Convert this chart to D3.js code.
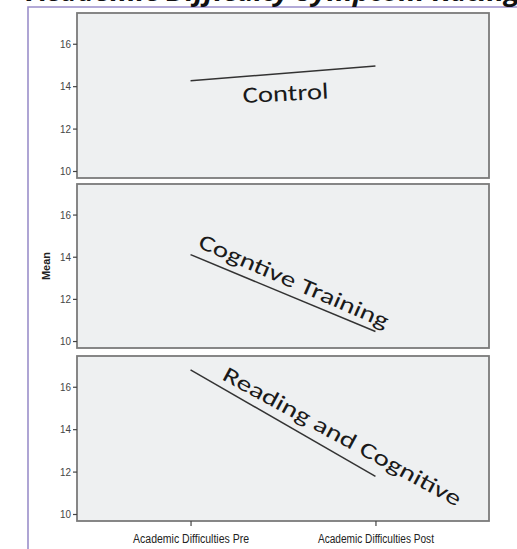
<!DOCTYPE html>
<html><head><meta charset="utf-8">
<script src="https://cdn.jsdelivr.net/npm/d3@7"></script>
<style>body{margin:0;background:#fff}svg{display:block}</style>
</head><body><svg id="c" width="517" height="549"></svg>
<script>
const title = "Academic Difficulty Symptom Rating";
const categories = ["Academic Difficulties Pre", "Academic Difficulties Post"];
const groups = ["Control", "Cogntive Training", "Reading and Cognitive"];
const controlValues = [14.25, 14.95];
const cognitiveValues = [14.1, 10.45];
const readingValues = [16.8, 11.77];
const yTicks = [10, 12, 14, 16];
const yLabel = "Mean";

const seriesValues = [controlValues, cognitiveValues, readingValues];
const svg = d3.select("#c");

// purple frame
svg.append("path").attr("d", "M28,549 L28,7 L517,7")
  .attr("fill", "none").attr("stroke", "#9b8fca").attr("stroke-width", 1.6);

// cut-off title (only its lower edge shows, as in the reference)
svg.append("text").attr("x", 28).attr("y", 1)
  .attr("font-family", "'Open Sans', sans-serif").attr("font-weight", "bold")
  .attr("font-style", "italic").attr("font-size", 26)
  .attr("textLength", 492).attr("lengthAdjust", "spacingAndGlyphs")
  .attr("fill", "#111").text(title);

const left = 77, right = 489;
const panels = [{top: 13, bottom: 178}, {top: 184, bottom: 348}, {top: 356, bottom: 521}];
const x = d3.scalePoint().domain(categories).range([left, right]).padding(0.614);

const labelSpecs = [
  {x: 243, y: 103, rot: -3, len: 86, size: 23},
  {x: 197, y: 247, rot: 23.5, len: 205, size: 22},
  {x: 221, y: 379, rot: 28.5, len: 268, size: 22}
];

panels.forEach((p, i) => {
  const y = d3.scaleLinear().domain([9.67, 17.45]).range([p.bottom, p.top]);
  const g = svg.append("g");
  g.append("rect").attr("x", left).attr("y", p.top).attr("width", right - left)
    .attr("height", p.bottom - p.top).attr("fill", "#eef0f1")
    .attr("stroke", "#7a7a7a").attr("stroke-width", 1.8);
  const ax = g.append("g").attr("transform", `translate(${left},0)`)
    .call(d3.axisLeft(y).tickValues(yTicks).tickSize(4).tickPadding(2));
  ax.select(".domain").remove();
  ax.selectAll("line").attr("stroke", "#444").attr("stroke-width", 1.2);
  ax.selectAll("text").attr("font-family", "'Liberation Sans', Arial, sans-serif")
    .attr("font-size", 11).attr("textLength", 11).attr("lengthAdjust", "spacingAndGlyphs")
    .attr("fill", "#444");

  const line = d3.line().x((d, j) => x(categories[j])).y(d => y(d));
  g.append("path").datum(seriesValues[i]).attr("d", line)
    .attr("fill", "none").attr("stroke", "#333").attr("stroke-width", 1.5);

  const s = labelSpecs[i];
  g.append("text").attr("transform", `translate(${s.x},${s.y}) rotate(${s.rot})`)
    .attr("font-family", "Carlito, 'Open Sans', sans-serif").attr("font-size", s.size)
    .attr("textLength", s.len).attr("lengthAdjust", "spacingAndGlyphs")
    .attr("fill", "#1a1a1a").text(groups[i]);
});

// x axis at bottom
const xa = svg.append("g").attr("transform", `translate(0,${panels[2].bottom})`)
  .call(d3.axisBottom(x).tickSize(5).tickPadding(8));
xa.select(".domain").remove();
xa.selectAll("line").attr("stroke", "#444").attr("stroke-width", 1.2);
xa.selectAll("text").attr("font-family", "'Liberation Sans', Arial, sans-serif")
  .attr("font-size", 12).attr("textLength", 116).attr("lengthAdjust", "spacingAndGlyphs")
  .attr("fill", "#222");

svg.append("text").attr("transform", "translate(50,266) rotate(-90)")
  .attr("text-anchor", "middle").attr("font-family", "'Liberation Sans', Arial, sans-serif")
  .attr("font-weight", "bold").attr("font-size", 11).attr("fill", "#222").text(yLabel);
</script></body></html>
